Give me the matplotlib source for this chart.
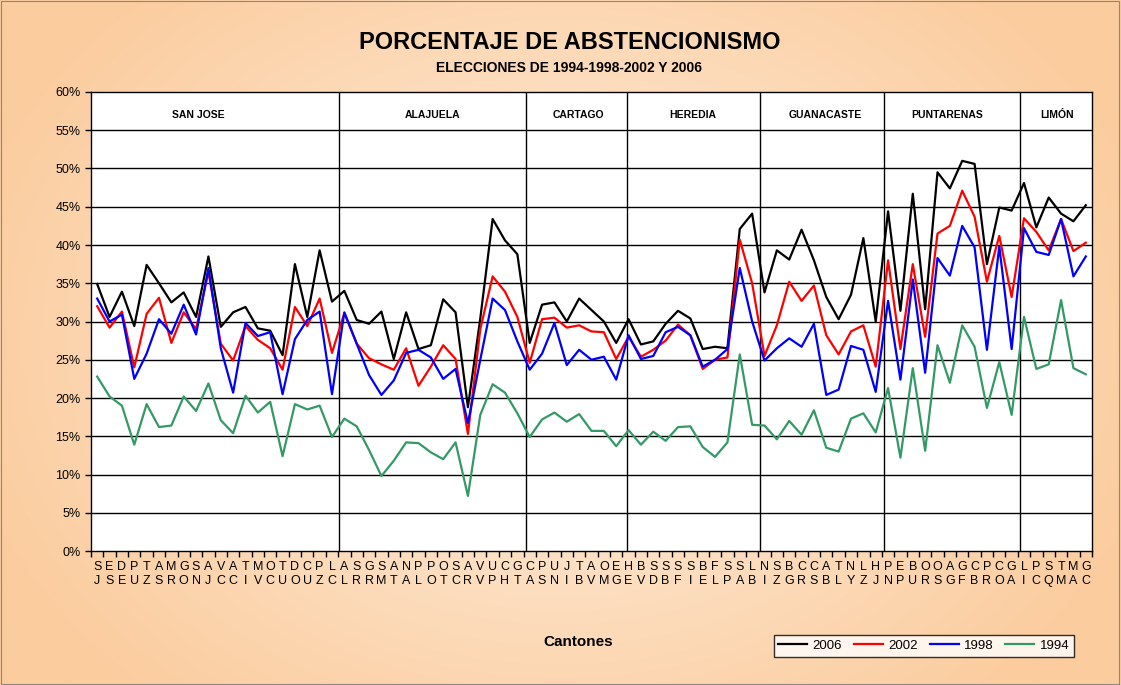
import numpy as np
import matplotlib
matplotlib.use('Agg')
import matplotlib.pyplot as plt

plt.rcParams['font.family'] = ['Liberation Sans', 'DejaVu Sans']

# cantones (dos letras por canton, una arriba y otra abajo)
cantones = ['SJ', 'ES', 'DE', 'PU', 'TZ', 'AS', 'MR', 'GO', 'SN', 'AJ', 'VC', 'AC', 'TI', 'MV', 'OC',
            'TU', 'DO', 'CU', 'PZ', 'LC',
            'AL', 'SR', 'GR', 'SM', 'AT', 'NA', 'PL', 'PO', 'OT', 'SC', 'AR', 'VV', 'UP', 'CH', 'GT',
            'CA', 'PS', 'UN', 'JI', 'TB', 'AV', 'OM', 'EG',
            'HE', 'BV', 'SD', 'SB', 'SF', 'SI', 'BE', 'FL', 'SP', 'SA',
            'LB', 'NI', 'SZ', 'BG', 'CR', 'CS', 'AB', 'TL', 'NY', 'LZ', 'HJ',
            'PN', 'EP', 'BU', 'OR', 'OS', 'AG', 'GF', 'CB', 'PR', 'CO', 'GA',
            'LI', 'PC', 'SQ', 'TM', 'MA', 'GC']

abst_2006 = [34.9, 30.6, 33.9, 29.4, 37.4, 35.0, 32.5, 33.8, 30.6, 38.5, 29.3, 31.2, 31.9, 29.1, 28.8,
             25.6, 37.5, 30.6, 39.3, 32.6,
             34.0, 30.2, 29.7, 31.3, 25.1, 31.2, 26.4, 26.9, 32.9, 31.2, 18.8, 30.4, 43.4, 40.6, 38.8,
             27.2, 32.2, 32.5, 30.0, 33.0, 31.5, 30.0, 27.2,
             30.3, 27.0, 27.4, 29.7, 31.4, 30.4, 26.4, 26.7, 26.5, 42.1,
             44.1, 33.8, 39.3, 38.1, 42.0, 38.0, 33.2, 30.3, 33.5, 40.9, 30.0,
             44.4, 31.4, 46.7, 31.6, 49.5, 47.4, 51.0, 50.6, 37.5, 44.9, 44.5,
             48.1, 42.3, 46.2, 44.1, 43.1, 45.2]
abst_2002 = [32.0, 29.2, 31.3, 24.0, 31.0, 33.1, 27.2, 31.2, 29.0, 36.5, 27.1, 24.9, 29.4, 27.6, 26.5,
             23.7, 31.9, 29.4, 33.0, 25.9,
             31.1, 27.1, 25.2, 24.4, 23.7, 26.5, 21.6, 24.1, 26.9, 25.1, 15.3, 29.0, 35.9, 33.9, 30.6,
             24.6, 30.3, 30.5, 29.2, 29.5, 28.7, 28.6, 25.1,
             28.0, 25.4, 26.3, 27.5, 29.6, 28.2, 23.8, 25.0, 25.3, 40.7,
             35.0, 25.5, 29.5, 35.2, 32.7, 34.7, 28.2, 25.7, 28.7, 29.5, 24.1,
             38.0, 26.4, 37.5, 28.0, 41.5, 42.5, 47.1, 43.7, 35.2, 41.2, 33.2,
             43.5, 41.7, 39.3, 43.4, 39.2, 40.3]
abst_1998 = [33.0, 30.0, 30.9, 22.5, 25.8, 30.3, 28.4, 32.2, 28.3, 37.0, 26.5, 20.7, 29.8, 28.1, 28.6,
             20.5, 27.7, 30.2, 31.3, 20.5,
             31.2, 27.1, 23.0, 20.4, 22.3, 25.9, 26.3, 25.3, 22.5, 23.8, 16.7, 25.0, 33.0, 31.5, 27.4,
             23.7, 25.8, 29.8, 24.3, 26.3, 25.0, 25.4, 22.4,
             28.2, 25.1, 25.5, 28.6, 29.3, 28.2, 24.1, 25.0, 26.4, 37.0,
             30.0, 24.9, 26.5, 27.8, 26.7, 29.7, 20.4, 21.1, 26.8, 26.3, 20.8,
             32.7, 22.4, 35.5, 23.3, 38.3, 36.0, 42.5, 39.7, 26.3, 39.8, 26.4,
             42.2, 39.1, 38.7, 43.4, 35.9, 38.5]
abst_1994 = [22.8, 20.2, 19.0, 13.9, 19.2, 16.2, 16.4, 20.2, 18.3, 21.9, 17.1, 15.4, 20.3, 18.1, 19.5,
             12.4, 19.2, 18.5, 19.0, 14.9,
             17.3, 16.3, 13.2, 9.8, 11.8, 14.2, 14.1, 12.9, 12.0, 14.2, 7.2, 17.8, 21.8, 20.7, 18.0,
             14.9, 17.2, 18.1, 16.9, 17.9, 15.7, 15.7, 13.7,
             15.8, 13.9, 15.6, 14.4, 16.2, 16.3, 13.6, 12.3, 14.2, 25.7,
             16.5, 16.4, 14.6, 17.0, 15.2, 18.4, 13.5, 13.0, 17.3, 18.0, 15.5,
             21.3, 12.2, 23.9, 13.1, 26.9, 22.0, 29.5, 26.7, 18.7, 24.7, 17.8,
             30.6, 23.8, 24.4, 32.8, 23.9, 23.1]

provincias = ['SAN JOSE', 'ALAJUELA', 'CARTAGO', 'HEREDIA', 'GUANACASTE', 'PUNTARENAS', 'LIMÓN']
pos_provincias = [8.2, 27.1, 38.9, 48.2, 58.9, 68.8, 77.7]
separadores = [19.6, 34.7, 42.9, 53.6, 63.7, 74.7]

fig = plt.figure(figsize=(11.21, 6.85), dpi=100)

# fondo degradado
bg = fig.add_axes([0, 0, 1, 1])
yy, xx = np.mgrid[-1:1:300j, -1:1:300j]
r = np.clip(np.sqrt(xx**2 * 0.8 + yy**2 * 0.5), 0, 1)
c_centro = np.array([255, 240, 225]) / 255
c_borde = np.array([251, 204, 158]) / 255
img = c_centro[None, None, :] * (1 - r[..., None]) + c_borde[None, None, :] * r[..., None]
bg.imshow(img, aspect='auto', extent=[0, 1, 0, 1])
bg.set_xlim(0, 1)
bg.set_ylim(0, 1)
bg.axis('off')
bg.add_patch(plt.Rectangle((0.0005, 0.001), 0.998, 0.997, fill=False, edgecolor='#888888', lw=0.8))

ax = fig.add_axes([0.0812, 0.1956, 0.8929, 0.6701])
ax.set_facecolor('white')
x = np.arange(len(cantones))

ax.plot(x, abst_2006, color='black', lw=1.6, label='2006')
ax.plot(x, abst_2002, color='#FF0000', lw=1.6, label='2002')
ax.plot(x, abst_1998, color='#0000FF', lw=1.6, label='1998')
ax.plot(x, abst_1994, color='#339966', lw=1.6, label='1994')

ax.set_xlim(-0.5, len(cantones) - 0.5)
ax.set_ylim(0, 60)
ax.set_yticks(range(0, 61, 5))
ax.set_yticklabels([str(v) + '%' for v in range(0, 61, 5)], fontsize=9)
for v in range(5, 60, 5):
    ax.axhline(v, color='black', lw=1, zorder=0)
for s in separadores:
    ax.axvline(s, color='black', lw=1, zorder=0)

ax.set_xticks(np.arange(-0.5, len(cantones), 1))
ax.set_xticklabels([])
ax.set_xticks(x, minor=True)
ax.set_xticklabels([c[0] + '\n' + c[1] for c in cantones], minor=True, fontsize=9, linespacing=1.3)
ax.tick_params(axis='x', which='major', length=4, direction='out', width=1)
ax.tick_params(axis='x', which='minor', length=0, pad=7)
ax.tick_params(axis='y', length=4, width=1)
for sp in ax.spines.values():
    sp.set_color('black')
    sp.set_linewidth(1)

for nombre, p in zip(provincias, pos_provincias):
    ax.text(p, 57.0, nombre, ha='center', va='center', fontsize=7.5, fontweight='bold')

fig.text(0.508, 0.938, 'PORCENTAJE DE ABSTENCIONISMO', ha='center', va='center',
         fontsize=17, fontweight='bold')
fig.text(0.508, 0.900, 'ELECCIONES DE 1994-1998-2002 Y 2006', ha='center', va='center',
         fontsize=10, fontweight='bold')
fig.text(0.516, 0.063, 'Cantones', ha='center', va='center', fontsize=11, fontweight='bold')

leg = fig.legend(loc='center', bbox_to_anchor=(0.824, 0.057), ncol=4, fontsize=9.5,
                 frameon=True, fancybox=False, edgecolor='black', handlelength=2.2,
                 columnspacing=0.9, handletextpad=0.4, borderpad=0.35)
leg.get_frame().set_facecolor('white')
leg.get_frame().set_linewidth(1)

fig.savefig('out.png', dpi=100)
